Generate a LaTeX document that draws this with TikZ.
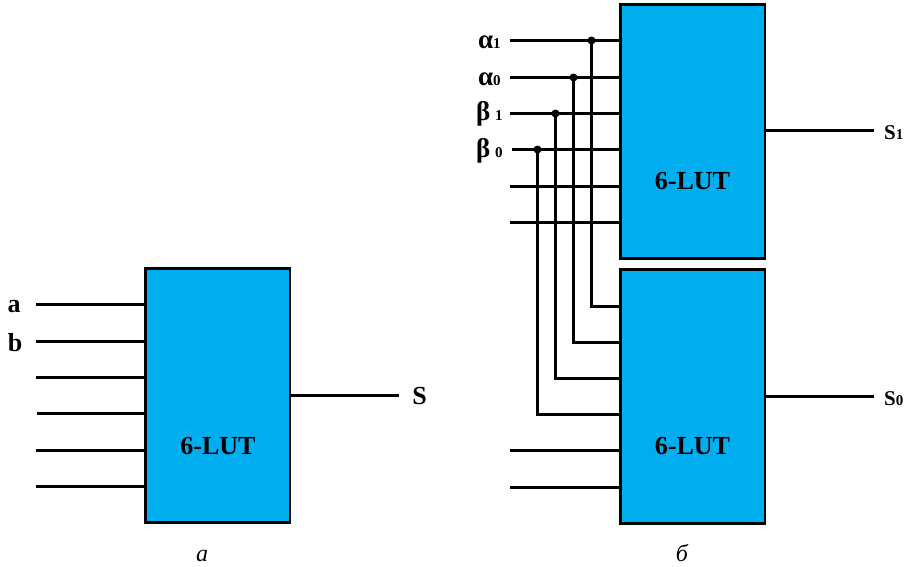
\documentclass[tikz,border=0pt]{standalone}
\usepackage{fontspec}
\setmainfont{Liberation Serif}
\definecolor{lutblue}{RGB}{0,174,239}
\begin{document}
\begin{tikzpicture}[x=1pt,y=-1pt,
  lut/.style={draw=black,line width=2.8pt,fill=lutblue,minimum width=144.5pt,minimum height=254pt,inner sep=0pt,outer sep=0pt,anchor=north west},
  wire/.style={line width=2.4pt,draw=black},
  dotj/.style={circle,fill=black,minimum size=8pt,inner sep=0pt},
  lbl/.style={font=\fontsize{26}{26}\selectfont\bfseries,inner sep=0pt,text=black},
  lbltxt/.style={font=\fontsize{26}{26}\selectfont\bfseries,inner sep=0pt},
  grk/.style={font=\fontsize{27}{27}\selectfont\bfseries,inner sep=0pt,anchor=base west},
  subs/.style={font=\fontsize{15}{15}\selectfont\bfseries,inner sep=0pt,anchor=base west},
  outl/.style={font=\fontsize{21}{21}\selectfont\bfseries,inner sep=0pt,anchor=base west},
  capt/.style={font=\fontsize{24}{24}\selectfont\itshape,inner sep=0pt,anchor=base}]
\useasboundingbox (0,0) rectangle (904,566);
% boxes
\node[lut] (A) at (145.5,268.5) {};
\node[lut] (T) at (620.5,4.5) {};
\node[lut] (B) at (620.5,269.5) {};
\node[lbltxt] (ta) at (218,446) {6-LUT};
\node[lbltxt] (tt) at (692.5,181) {6-LUT};
\node[lbltxt] (tb) at (692.5,446) {6-LUT};
% left part
\coordinate (a1) at (36,304.5);
\coordinate (a2) at (36,341.5);
\coordinate (a3) at (36,377.5);
\coordinate (a4) at (37,413.5);
\coordinate (a5) at (36,450.5);
\coordinate (a6) at (36,486.5);
\foreach \n in {a1,a2,a3,a4,a5,a6} \draw[wire] (\n) -- (\n -| A.west);
\coordinate (ao) at (399,395.5);
\draw[wire] (ao -| A.east) -- (ao);
\node[lbl] (la) at (14,307) {a};
\node[lbl] (lb) at (15,342.5) {b};
\node[lbl] (ls) at (419.5,396.5) {S};
\node[capt] (ca) at (202,561) {a};
% right part, upper inputs
\coordinate (t1) at (510,40.5);
\coordinate (t2) at (510,77.5);
\coordinate (t3) at (510,113.5);
\coordinate (t4) at (512,149.5);
\coordinate (t5) at (510,186.5);
\coordinate (t6) at (510,222.5);
\foreach \n in {t1,t2,t3,t4,t5,t6} \draw[wire] (\n) -- (\n -| T.west);
\coordinate (b5) at (510,450.5);
\coordinate (b6) at (510,487.5);
\foreach \n in {b5,b6} \draw[wire] (\n) -- (\n -| B.west);
% junctions and feed lines
\node[dotj] (d1) at (591.5,40.5) {};
\node[dotj] (d2) at (573.5,77.5) {};
\node[dotj] (d3) at (555.5,113.5) {};
\node[dotj] (d4) at (537.5,149.5) {};
\coordinate (b1) at (620,306.5);
\coordinate (b2) at (620,342.5);
\coordinate (b3) at (620,378.5);
\coordinate (b4) at (620,414.5);
\foreach \d/\b in {d1/b1,d2/b2,d3/b3,d4/b4} \draw[wire] (\d.center) |- (\b -| B.west);
% outputs
\coordinate (o1) at (874,130.5);
\coordinate (o0) at (874,396.5);
\draw[wire] (o1 -| T.east) -- (o1);
\draw[wire] (o0 -| B.east) -- (o0);
% labels
\node[grk] (al1) at (478,48) {α};
\node[subs] (al1s) at (493,48) {1};
\node[grk] (al0) at (478,85) {α};
\node[subs] (al0s) at (493,85) {0};
\node[grk] (be1) at (476,120) {β};
\node[subs] (be1s) at (495,120.5) {1};
\node[grk] (be0) at (476,157) {β};
\node[subs] (be0s) at (495,157.5) {0};
\node[outl] (s1) at (884,139) {S\fontsize{15}{15}\selectfont 1};
\node[outl] (s0) at (884,405) {S\fontsize{15}{15}\selectfont 0};
\node[capt] (cb) at (682,561) {б};
\end{tikzpicture}
\end{document}
